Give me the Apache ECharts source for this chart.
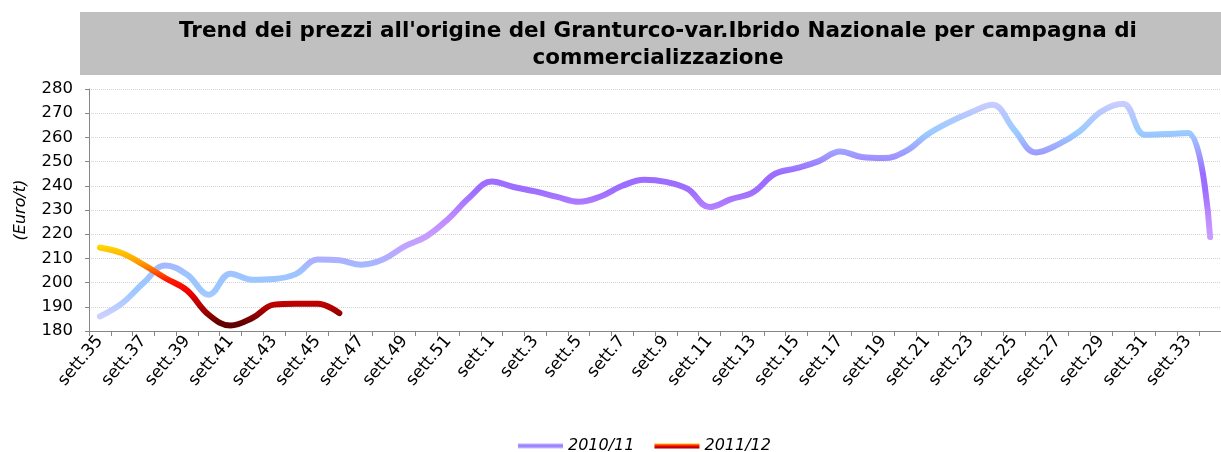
<!DOCTYPE html>
<html>
<head>
<meta charset="utf-8">
<script src="https://cdn.jsdelivr.net/npm/echarts@6/dist/echarts.min.js"></script>
<style>
html,body{margin:0;padding:0;background:#fff;}
#chart{width:1221px;height:452px;}
</style>
</head>
<body>
<div id="chart"></div>
<script>
var weeks = [35,36,37,38,39,40,41,42,43,44,45,46,47,48,49,50,51,52,1,2,3,4,5,6,7,8,9,10,11,12,13,14,15,16,17,18,19,20,21,22,23,24,25,26,27,28,29,30,31,32,33,34];
var categories = weeks.map(function(w){ return 'sett.' + w; });

var s2010 = [186.0,191.3,199.8,207.1,203.3,195.0,203.7,201.2,201.5,203.5,209.5,209.2,207.4,209.5,215.0,219.1,226.3,235.4,241.8,239.5,237.7,235.4,233.4,235.6,240.0,242.5,241.6,238.7,231.2,234.5,237.3,244.9,247.3,250.1,254.2,251.9,251.5,254.2,261.1,266.2,270.3,273.5,263.2,253.8,257.0,262.5,270.7,273.9,261.1,261.4,261.8,218.8];

var s2011 = [214.5,212.2,207.4,201.9,196.8,186.7,182.3,185.4,190.9,191.3,191.3,187.4];

var seriesNames = ['2010/11','2011/12'];
var yTicks = {min:180, max:280, step:10};

var titleText = "Trend dei prezzi all'origine del Granturco-var.Ibrido Nazionale per campagna di\ncommercializzazione";

// layout constants
var GRID_TOP = 89, GRID_H = 242, GRID_LEFT = 89, GRID_W = 1136;
function vOff(v){ return (yTicks.max - v) / (yTicks.max - yTicks.min); }

var grad2010 = new echarts.graphic.LinearGradient(0, GRID_TOP, 0, GRID_TOP + GRID_H, [
  {offset: vOff(276), color: '#d0d0ff'},
  {offset: vOff(270), color: '#b8c8ff'},
  {offset: vOff(262), color: '#99ccff'},
  {offset: vOff(254), color: '#a0a0ff'},
  {offset: vOff(245), color: '#9a6cff'},
  {offset: vOff(238), color: '#9e6eff'},
  {offset: vOff(228), color: '#bc88ff'},
  {offset: vOff(219), color: '#c89cff'},
  {offset: vOff(213), color: '#bca8ff'},
  {offset: vOff(209), color: '#aab2ff'},
  {offset: vOff(204), color: '#9ec4ff'},
  {offset: vOff(197), color: '#9cc8ff'},
  {offset: vOff(186), color: '#ccd0ff'}
], true);

var grad2011 = new echarts.graphic.LinearGradient(0, GRID_TOP, 0, GRID_TOP + GRID_H, [
  {offset: vOff(216), color: '#ffe000'},
  {offset: vOff(208), color: '#ff9a00'},
  {offset: vOff(201), color: '#ff1800'},
  {offset: vOff(196), color: '#f00000'},
  {offset: vOff(193), color: '#cc0000'},
  {offset: vOff(190), color: '#b20000'},
  {offset: vOff(187), color: '#940000'},
  {offset: vOff(183), color: '#600000'}
], true);

var legendGrad2010 = new echarts.graphic.LinearGradient(0,0,0,1,[
  {offset:0,color:'#c0b0ff'},{offset:0.5,color:'#9a78ff'},{offset:1,color:'#c0c8ff'}]);
var legendGrad2011 = new echarts.graphic.LinearGradient(0,0,0,1,[
  {offset:0,color:'#ffc000'},{offset:0.5,color:'#ff0000'},{offset:1,color:'#900000'}]);

var chart = echarts.init(document.getElementById('chart'), null, {renderer:'canvas'});
chart.setOption({
  animation: false,
  backgroundColor: '#ffffff',
  graphic: [{
    type: 'rect', left: 80, top: 12, z: -1,
    shape: {width: 1160, height: 63},
    style: {fill: '#c0c0c0'}
  }],
  title: {
    text: titleText,
    left: 658, top: 18, padding: 0,
    textAlign: 'center',
    textStyle: {fontFamily: 'DejaVu Sans', fontWeight: 'bold', fontSize: 21.5, color: '#000', lineHeight: 27}
  },
  legend: {
    top: 438, left: 518,
    itemWidth: 45, itemHeight: 5, itemGap: 20,
    icon: 'rect',
    padding: 0,
    textStyle: {fontFamily: 'DejaVu Sans', fontStyle: 'italic', fontSize: 16, color: '#000'},
    data: [
      {name: seriesNames[0], itemStyle: {color: legendGrad2010}},
      {name: seriesNames[1], itemStyle: {color: legendGrad2011}}
    ]
  },
  grid: {left: GRID_LEFT, top: GRID_TOP, width: GRID_W, height: GRID_H, containLabel: false},
  xAxis: {
    type: 'category',
    data: categories,
    boundaryGap: true,
    axisLine: {lineStyle: {color: '#868686', width: 1}},
    axisTick: {show: true, interval: 0, length: 5, inside: false, lineStyle: {color: '#868686'}},
    axisLabel: {interval: 1, rotate: 50, fontFamily: 'DejaVu Sans', fontSize: 17, color: '#000', margin: 7},
    splitLine: {show: false}
  },
  yAxis: {
    type: 'value',
    min: yTicks.min, max: yTicks.max, interval: yTicks.step,
    name: '(Euro/t)',
    nameLocation: 'middle',
    nameGap: 60,
    nameRotate: 90,
    nameTextStyle: {fontFamily: 'DejaVu Sans', fontStyle: 'italic', fontSize: 16, color: '#000'},
    axisLine: {show: true, lineStyle: {color: '#868686', width: 1}},
    axisTick: {show: true, length: 4, lineStyle: {color: '#868686'}},
    axisLabel: {fontFamily: 'DejaVu Sans', fontSize: 16.5, color: '#000', margin: 16},
    splitLine: {show: true, lineStyle: {color: '#d4d4d4', type: 'dotted', width: 1}}
  },
  series: [
    {
      name: seriesNames[0], type: 'line', data: s2010,
      smooth: 0.4, showSymbol: false, symbol: 'none',
      lineStyle: {width: 6, color: grad2010, cap: 'round', join: 'round'},
      itemStyle: {color: legendGrad2010},
      z: 2
    },
    {
      name: seriesNames[1], type: 'line', data: s2011,
      smooth: 0.4, showSymbol: false, symbol: 'none',
      lineStyle: {width: 6, color: grad2011, cap: 'round', join: 'round'},
      itemStyle: {color: legendGrad2011},
      z: 3
    }
  ]
});
</script>
</body>
</html>
